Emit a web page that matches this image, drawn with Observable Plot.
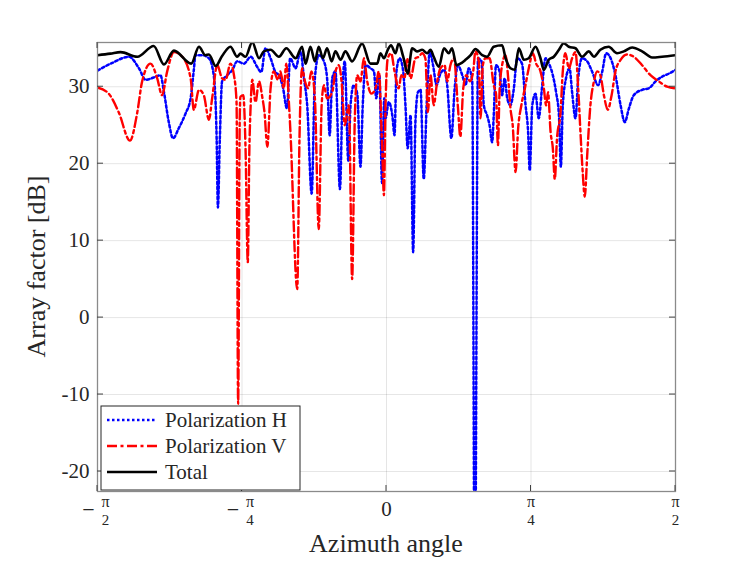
<!DOCTYPE html>
<html>
<head>
<meta charset="utf-8">
<script src="https://cdn.jsdelivr.net/npm/d3@7"></script>
<script src="https://cdn.jsdelivr.net/npm/@observablehq/plot@0.6"></script>
<style>
  html, body { margin: 0; padding: 0; background: #fff; }
  #chart { width: 747px; height: 561px; }
</style>
</head>
<body>
<div id="chart"></div>
<script>
// ---- data (azimuth in degrees, array factor in dB) ----
const totalDeg = [-90,-86,-82.8,-77.6,-72.5,-69.3,-66.2,-60.8,-58.4,-56.4,-55.3,-53.2,-51.2,-48.6,-46.5,-45.5,-43.9,-41.8,-39.7,-38.2,-36.1,-33.5,-31.2,-28.3,-26.3,-25.2,-23.7,-22.3,-21.1,-19.8,-18.5,-17.1,-15.9,-14.3,-12.8,-10.7,-7.6,-5.0,-2.9,-1.9,-0.8,0.4,1.4,2.8,3.8,5.2,6.6,8.0,9.5,11.1,12.7,13.7,14.7,16.3,17.9,19.4,20.4,21.8,23.0,24.6,26.2,27.7,29.8,31.3,33.4,36.0,37.1,38.6,40.0,41.2,42.8,44.3,46.4,47.95,49.0,50.5,52.1,53.7,55.2,56.8,58.85,60.9,63.0,64.6,66.6,69.2,71.8,73.9,76.5,79.6,82.7,85.8,90];
const totalDb  = [34.1,34.3,34.5,33.9,35.3,32.9,34.7,33.0,35.2,34.1,34.2,32.7,34.0,35.2,33.9,34.3,33.9,35.8,33.7,34.6,34.8,33.9,35.0,33.7,35.2,33.0,35.2,33.3,35.2,33.7,35.0,33.3,34.6,33.5,34.6,33.3,35.6,33.0,33.0,34.35,33.7,34.8,35.4,34.35,35.65,33.9,31.7,35.0,34.6,34.8,34.35,34.8,33.9,32.6,35.0,34.35,35.0,32.8,33.0,33.5,34.1,34.9,34.1,33.9,35.2,35.4,33.7,32.4,32.2,35.0,33.5,33.7,35.2,33.7,32.2,33.5,33.9,34.8,35.65,35.2,35.0,33.9,34.6,33.9,34.8,35.2,34.35,34.6,35.1,34.6,33.8,33.9,34.1];

const hDeg = [-90,-85.4,-80.2,-77.1,-75.0,-72.5,-70.4,-69.3,-67.8,-66.5,-64.7,-62.6,-61.0,-60.0,-59.5,-57.4,-55.3,-53.8,-52.9,-52.5,-51.9,-51.2,-49.6,-48.0,-46.5,-44.4,-42.3,-40.3,-39.0,-37.7,-36.1,-34.6,-33.5,-32.3,-31.0,-30.0,-28.3,-26.8,-25.7,-24.7,-23.3,-22.3,-21.1,-19.5,-18.5,-17.7,-16.9,-15.9,-14.5,-13.6,-13.0,-11.9,-11.2,-10.2,-9.1,-8.1,-7.4,-6.5,-5.0,-3.9,-3.2,-2.2,-1.4,-0.7,-0.3,0.7,1.8,2.5,3.1,4.1,5.2,5.9,6.6,7.5,8.3,9.0,9.8,10.6,11.6,12.5,13.5,14.5,15.6,16.6,17.9,18.9,20.2,21.2,22.2,23.6,24.6,25.6,26.7,27.5,28.5,29.6,30.3,31.3,32.1,32.9,33.4,34.1,35.2,36.0,36.8,37.6,38.6,39.6,40.7,42.2,43.3,44.1,44.6,45.4,46.4,47.4,48.5,49.5,50.8,51.8,52.8,53.7,54.3,54.9,55.9,57.0,57.8,58.85,59.7,60.9,62.5,64.0,65.9,67.2,68.4,69.8,71.3,72.9,74.2,75.5,77.0,79.6,81.7,83.8,85.8,87.9,90];
const hDb  = [32.1,33.1,33.9,32.4,30.9,31.2,31.5,29.3,25.4,23.3,24.6,26.5,28.5,32.2,34.1,34.1,33.7,31.5,23.3,14.3,23.3,30.7,31.5,32.2,33.3,33.0,33.9,32.6,31.9,35.0,33.7,31.9,31.5,30.0,27.2,33.7,32.4,34.6,31.1,27.6,16.1,31.1,34.1,33.3,31.1,23.7,31.1,32.0,16.7,30.7,33.3,20.4,27.6,30.2,29.1,19.6,27.6,32.8,32.4,32.0,28.5,31.5,17.5,28.5,25.9,28.0,26.3,23.7,32.0,33.7,32.0,27.6,22.0,26.3,8.5,25.4,29.3,29.6,18.0,27.6,34.6,32.8,30.2,31.5,32.2,30.2,23.3,29.6,32.8,31.5,30.2,32.4,30.7,-40,33.7,33.3,27.6,26.3,25.0,22.8,26.3,32.8,32.0,28.9,31.1,28.5,27.6,29.6,33.7,33.0,27.6,24.1,19.1,27.6,29.1,25.9,30.2,33.7,32.8,31.5,29.3,26.3,19.6,27.6,31.1,32.4,29.3,25.9,31.1,33.7,33.3,32.0,30.2,32.0,34.35,33.7,31.5,27.6,25.4,27.2,28.9,29.6,29.8,30.7,31.3,31.7,32.2];

const vDeg = [-90,-86.5,-83.4,-79.9,-77.6,-76.1,-73.5,-71.4,-69.9,-68.3,-66.2,-63.6,-61.0,-60.0,-58.4,-56.9,-55.3,-54.3,-52.7,-51.2,-50.1,-48.6,-47.5,-46.7,-46.2,-45.7,-45.5,-44.6,-43.9,-43.2,-42.7,-42.3,-41.8,-40.8,-39.7,-38.7,-38.0,-37.1,-36.1,-35.1,-33.8,-33.0,-32.0,-31.2,-30.4,-29.9,-27.8,-27.1,-26.3,-25.4,-24.4,-23.4,-22.3,-21.1,-20.2,-19.5,-18.5,-16.9,-15.9,-14.8,-14.0,-13.0,-11.7,-10.7,-9.9,-9.1,-8.1,-7.05,-6.0,-4.7,-3.4,-2.4,-1.35,-0.8,-0.3,0.4,1.45,2.5,3.8,4.6,5.6,6.4,7.5,9.0,10.1,11.1,12.1,12.9,13.7,14.7,15.8,16.8,18.1,18.9,19.9,21.0,22.2,23.0,23.9,24.9,26.0,27.0,27.7,28.75,29.3,30.0,30.8,32.1,33.4,34.1,34.7,35.2,36.0,37.05,37.9,38.6,39.3,40.2,41.0,42.0,43.1,44.3,45.6,46.6,47.95,49.0,49.7,50.3,51.1,51.8,52.4,53.1,54.2,54.9,55.7,56.8,57.8,58.85,59.7,60.4,61.1,61.75,62.5,63.5,64.6,65.6,66.6,67.7,68.9,70.1,71.3,72.9,74.9,77.0,79.6,82.2,84.8,87.4,90];
const vDb  = [29.9,29.1,26.7,23.0,26.7,30.7,33.0,31.1,28.9,32.0,34.5,33.9,31.1,27.0,29.6,28.9,25.7,28.5,32.8,31.1,30.9,33.0,31.5,28.0,-11.2,26.0,28.7,28.9,22.0,7.2,22.0,27.6,30.9,28.0,30.7,28.7,26.7,22.2,29.8,32.0,30.9,32.0,29.8,33.0,28.0,24.0,3.7,23.3,32.4,30.7,29.8,32.0,28.5,11.5,27.6,30.2,28.5,29.3,32.0,32.8,30.7,25.0,27.6,5.0,25.4,31.5,30.7,33.7,30.7,29.1,29.8,32.0,22.0,15.9,27.6,33.7,34.35,32.0,29.8,31.5,31.1,33.7,31.1,33.7,33.9,34.35,33.7,26.7,31.5,27.6,30.7,32.4,32.8,30.7,32.8,33.7,27.6,23.5,29.8,31.5,30.7,32.0,34.6,33.3,25.9,32.8,33.7,33.7,30.2,29.1,22.4,29.3,32.8,34.1,31.1,27.2,25.0,18.9,24.6,27.6,29.8,32.4,34.35,33.0,32.0,29.8,27.6,29.3,24.1,22.0,18.0,23.3,26.7,32.0,34.35,32.4,33.7,34.5,29.8,24.1,18.9,15.7,21.1,27.6,30.7,32.0,31.5,28.9,27.0,28.9,32.0,33.5,34.2,33.9,32.8,31.5,30.7,30.0,29.8];

const xTickDeg  = [-90, -45, 0, 45, 90];
const xTickSign = ["−", "−", "", "", ""];
const xTickNum  = ["π", "π", "0", "π", "π"];
const xTickDen  = ["2", "4", "", "4", "2"];
const yTicks = [-20, -10, 0, 10, 20, 30];
const yDomain = [-22.6, 35.75];
const xDomain = [-90, 90];
const seriesNames = ["Polarization H", "Polarization V", "Total"];
const xLabel = "Azimuth angle";
const yLabel = "Array factor [dB]";

// ---- build ----
const rows = (deg, db) => deg.map((d, i) => ({x: d, y: db[i]}));
const hRows = rows(hDeg, hDb), vRows = rows(vDeg, vDb), tRows = rows(totalDeg, totalDb);

const xTicks = xTickDeg.map((d, i) => ({deg: d, sign: xTickSign[i], num: xTickNum[i], den: xTickDen[i]}));
const plainTicks = xTicks.filter(t => t.den === "");
const negFrac = xTicks.filter(t => t.den !== "" && t.sign !== "");
const posFrac = xTicks.filter(t => t.den !== "" && t.sign === "");

const W = 747, H = 561, mL = 97, mR = 72, mT = 42, mB = 70;
const FONT = "'Liberation Serif', 'DejaVu Serif', serif";
const INK = "#262626";

const styles = [
  {stroke: "#0000ff", dash: "2.5 2.5", width: 2.5},
  {stroke: "#ff0000", dash: "10 3.5 3 3.5", width: 2.4},
  {stroke: "#000000", dash: null, width: 2.6}
];

const plot = Plot.plot({
  width: W, height: H,
  marginLeft: mL, marginRight: mR, marginTop: mT, marginBottom: mB,
  style: {fontFamily: FONT, background: "#fff", color: INK},
  x: {domain: xDomain, axis: null},
  y: {domain: yDomain},
  marks: [
    Plot.gridX(xTickDeg, {stroke: "#000", strokeOpacity: 0.1, strokeWidth: 1}),
    Plot.gridY(yTicks, {stroke: "#000", strokeOpacity: 0.1, strokeWidth: 1}),
    Plot.line(hRows, {x: "x", y: "y", stroke: styles[0].stroke, strokeWidth: styles[0].width, strokeDasharray: styles[0].dash, curve: "monotone-x", clip: true}),
    Plot.line(vRows, {x: "x", y: "y", stroke: styles[1].stroke, strokeWidth: styles[1].width, strokeDasharray: styles[1].dash, curve: "monotone-x", clip: true}),
    Plot.line(tRows, {x: "x", y: "y", stroke: styles[2].stroke, strokeWidth: styles[2].width, curve: "monotone-x", clip: true}),
    Plot.frame({stroke: "#8a8a8a", strokeWidth: 1.3}),
    Plot.axisY(yTicks, {anchor: "left", tickSize: 0, tickPadding: 8, fontSize: 21, label: null, color: INK, fontFamily: FONT, tickFormat: d => String(d)}),
    Plot.text(plainTicks, {x: "deg", text: "num", frameAnchor: "bottom", dy: 24, fontSize: 21, fill: INK, fontFamily: FONT}),
    Plot.text(negFrac, {x: "deg", text: "sign", frameAnchor: "bottom", dx: -9, dy: 25, fontSize: 22, fill: INK, fontFamily: FONT}),
    Plot.text(negFrac, {x: "deg", text: "num", frameAnchor: "bottom", dx: 8, dy: 15, fontSize: 16, fill: INK, fontFamily: FONT}),
    Plot.text(negFrac, {x: "deg", text: "den", frameAnchor: "bottom", dx: 8, dy: 33, fontSize: 15, fill: INK, fontFamily: FONT}),
    Plot.text(posFrac, {x: "deg", text: "num", frameAnchor: "bottom", dy: 15, fontSize: 16, fill: INK, fontFamily: FONT}),
    Plot.text(posFrac, {x: "deg", text: "den", frameAnchor: "bottom", dy: 33, fontSize: 15, fill: INK, fontFamily: FONT})
  ]
});

document.getElementById("chart").appendChild(plot);

// inward ticks on all four sides (MATLAB box style)
const sx = plot.scale("x"), sy = plot.scale("y");
const svg = d3.select(plot);
const tg = svg.append("g").attr("stroke", "#404040").attr("stroke-width", 1);
const TL = 6;
for (const t of yTicks) {
  const y = sy.apply(t);
  tg.append("line").attr("x1", mL).attr("x2", mL + TL).attr("y1", y).attr("y2", y);
  tg.append("line").attr("x1", W - mR - TL).attr("x2", W - mR).attr("y1", y).attr("y2", y);
}
for (const t of xTickDeg) {
  const x = sx.apply(t);
  tg.append("line").attr("x1", x).attr("x2", x).attr("y1", H - mB).attr("y2", H - mB - TL);
  tg.append("line").attr("x1", x).attr("x2", x).attr("y1", mT).attr("y2", mT + TL);
}

// axis labels
svg.append("text").text(xLabel)
  .attr("x", mL + (W - mL - mR) / 2).attr("y", 552)
  .attr("text-anchor", "middle").attr("font-size", 26).attr("fill", INK)
  .attr("font-family", FONT);
svg.append("text").text(yLabel)
  .attr("transform", `translate(45,${mT + (H - mT - mB) / 2}) rotate(-90)`)
  .attr("text-anchor", "middle").attr("font-size", 26).attr("fill", INK)
  .attr("font-family", FONT);

// legend (bottom-left inside axes)
const lx = mL + 4, lw = 199, lh = 84, ly = H - mB - 1 - lh;
const lg = svg.append("g");
lg.append("rect").attr("x", lx).attr("y", ly).attr("width", lw).attr("height", lh)
  .attr("fill", "#fff").attr("stroke", INK).attr("stroke-width", 1);
seriesNames.forEach((name, i) => {
  const cy = ly + 14 + i * 26;
  const s = styles[i];
  const ln = lg.append("line").attr("x1", lx + 6).attr("x2", lx + 56).attr("y1", cy).attr("y2", cy)
    .attr("stroke", s.stroke).attr("stroke-width", s.width);
  if (s.dash) ln.attr("stroke-dasharray", s.dash);
  lg.append("text").text(name).attr("x", lx + 64).attr("y", cy + 7)
    .attr("text-anchor", "start")
    .attr("font-size", 21).attr("fill", INK).attr("font-family", FONT);
});
</script>
</body>
</html>
